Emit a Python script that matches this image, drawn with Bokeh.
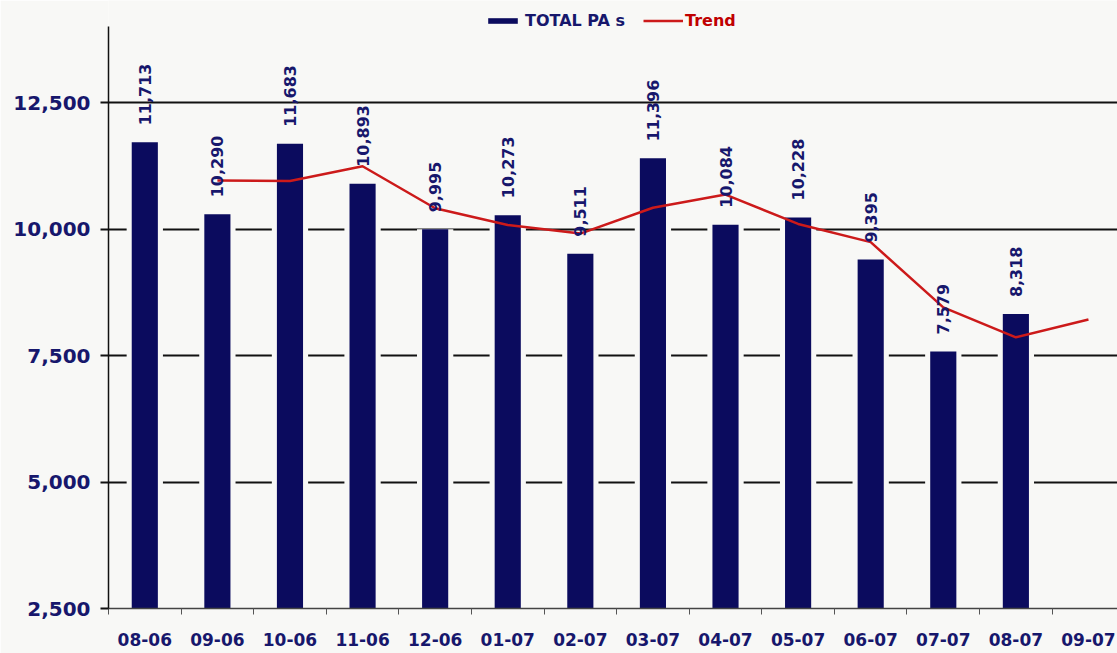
import math
from bokeh.plotting import figure
from bokeh.models import (Range1d, FixedTicker, NumeralTickFormatter, Legend, LegendItem)
from bokeh.core.properties import value
from bokeh.embed import file_html
from bokeh.resources import INLINE

# ---- data ----
months = ["08-06", "09-06", "10-06", "11-06", "12-06", "01-07", "02-07",
          "03-07", "04-07", "05-07", "06-07", "07-07", "08-07", "09-07"]
totals = [11713, 10290, 11683, 10893, 9995, 10273, 9511, 11396, 10084,
          10228, 9395, 7579, 8318]
trend_months = months[1:]
trend = [10960, 10950, 11240, 10410, 10080, 9910, 10420, 10680, 10100,
         9740, 8450, 7860, 8210]
y_ticks = [2500, 5000, 7500, 10000, 12500]

NAVY = "#0b0b5e"
TEXT = "#17176c"
RED = "#cc1a1a"
BG = "#f8f8f6"
FONT = "DejaVu Sans"

idx = list(range(len(months)))
bar_x = idx[:len(totals)]
trend_x = [months.index(m) for m in trend_months]
labels = [f"{v:,}" for v in totals]

p = figure(width=1117, height=653, output_backend="svg", toolbar_location=None,
           x_range=Range1d(-0.5, 13.40), y_range=Range1d(2500, 14516),
           min_border_left=108, min_border_right=0, min_border_top=0,
           min_border_bottom=45)
p.background_fill_color = BG
p.border_fill_color = BG
p.outline_line_color = None

# grid
p.xgrid.visible = False
p.ygrid.ticker = FixedTicker(ticks=y_ticks[1:])
p.ygrid.grid_line_color = "#111111"
p.ygrid.grid_line_width = 2

# halo behind bars (breaks grid lines around bars)
p.vbar(x=bar_x, top=totals, bottom=2500, width=0.5, fill_color=BG, line_color=None)
bars = p.vbar(x=bar_x, top=totals, bottom=2500, width=0.36, fill_color=NAVY, line_color=None)

tl = p.line(x=trend_x, y=trend, line_color=RED, line_width=2.5)

p.text(x=bar_x, y=totals, text=labels, angle=math.pi / 2, y_offset=-17,
       text_align="left", text_baseline="middle", text_color=TEXT,
       text_font=value(FONT), text_font_size="16px", text_font_style="bold")

# y axis
ya = p.yaxis[0]
ya.ticker = FixedTicker(ticks=y_ticks)
ya.formatter = NumeralTickFormatter(format="0,0")
ya.bounds = (2500, 14000)
ya.axis_line_color = "#111111"
ya.axis_line_width = 1.5
ya.major_tick_line_color = "#111111"
ya.major_tick_line_width = 2
ya.major_tick_out = 8
ya.major_tick_in = 0
ya.minor_tick_line_color = None
ya.major_label_standoff = 10
ya.major_label_text_font = FONT
ya.major_label_text_font_style = "bold"
ya.major_label_text_font_size = "20px"
ya.major_label_text_color = TEXT

# x axis
xa = p.xaxis[0]
xa.ticker = FixedTicker(ticks=idx, minor_ticks=[i - 0.5 for i in range(len(months) + 1)])
xa.major_label_overrides = {i: m for i, m in zip(idx, months)}
xa.axis_line_color = "#444444"
xa.axis_line_width = 1.5
xa.major_tick_line_color = None
xa.major_tick_out = 0
xa.major_tick_in = 0
xa.minor_tick_line_color = "#555555"
xa.minor_tick_out = 6
xa.minor_tick_in = 0
xa.major_label_standoff = 18
xa.major_label_text_font = FONT
xa.major_label_text_font_style = "bold"
xa.major_label_text_font_size = "17px"
xa.major_label_text_color = TEXT

# legends
def mk_legend(item, loc, color, gw, gh, standoff):
    lg = Legend(items=[item], location=loc, orientation="horizontal",
                glyph_width=gw, glyph_height=gh, label_standoff=standoff,
                label_text_font=FONT, label_text_font_style="bold",
                label_text_font_size="16px", label_text_color=color,
                label_height=16, padding=0, margin=0, spacing=0,
                border_line_color=None, background_fill_alpha=0)
    p.add_layout(lg)

mk_legend(LegendItem(label="TOTAL PA s", renderers=[bars]), (376, 578), TEXT, 37, 7, 4)
mk_legend(LegendItem(label="Trend", renderers=[tl]), (535, 578), "#c00000", 40, 7, 2)

open("out.html", "w").write(file_html(p, INLINE))
